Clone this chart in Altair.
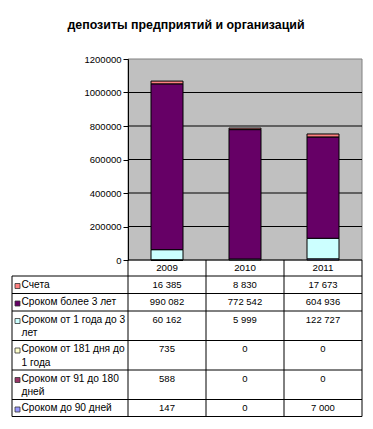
import altair as alt
import pandas as pd

# ---------------- data ----------------
title_text = "депозиты предприятий и организаций"
years = ["2009", "2010", "2011"]

series_names = [
    "Счета",
    "Сроком более 3 лет",
    "Сроком от 1 года до 3 лет",
    "Сроком от 181 дня до 1 года",
    "Сроком от 91 до 180 дней",
    "Сроком до 90 дней",
]
series_labels = [
    "Счета",
    "Сроком более 3 лет",
    "Сроком от 1 года до 3\nлет",
    "Сроком от 181 дня до\n1 года",
    "Сроком от 91 до 180\nдней",
    "Сроком до 90 дней",
]
series_colors = ["#FF8080", "#660066", "#CCFFFF", "#FFFFCC", "#993366", "#9999FF"]

scheta = [16385, 8830, 17673]
bolee_3_let = [990082, 772542, 604936]
ot_1_do_3_let = [60162, 5999, 122727]
ot_181_dnya_do_1_goda = [735, 0, 0]
ot_91_do_180_dney = [588, 0, 0]
do_90_dney = [147, 0, 7000]
series_values = [scheta, bolee_3_let, ot_1_do_3_let,
                 ot_181_dnya_do_1_goda, ot_91_do_180_dney, do_90_dney]

y_ticks = [0, 200000, 400000, 600000, 800000, 1000000, 1200000]

# ---------------- layout ----------------
FONT = "Liberation Sans"
PLOT_W, PLOT_H = 234, 201
N_COLS = len(years)
LABEL_W = 116 / 78          # label column width, in column units
HEADER_H = 16
ROW_H1, EXTRA_LINE = 17.5, 12

XS = alt.Scale(domain=[0, N_COLS], nice=False, zero=False, padding=0)
YS = alt.Scale(domain=[y_ticks[0], y_ticks[-1]], nice=False, zero=False, padding=0)
CS = alt.Scale(domain=series_names, range=series_colors)

# stacked bars (bottom series = last row of the table)
bar_rows = []
for i, yr in enumerate(years):
    base = 0
    for k in reversed(range(len(series_names))):
        v = series_values[k][i]
        if v > 0:
            bar_rows.append(dict(year=yr, xc=i + 0.5, series=series_names[k],
                                 y0=base, y1=base + v))
        base += v
bars_df = pd.DataFrame(bar_rows)

# table geometry
tops, heights = [], []
t = HEADER_H
for lbl in series_labels:
    h = ROW_H1 + EXTRA_LINE * lbl.count("\n")
    tops.append(t)
    heights.append(h)
    t += h
TABLE_H = t
TS = alt.Scale(domain=[0, TABLE_H], range=[PLOT_H, PLOT_H + TABLE_H],
               nice=False, zero=False, padding=0)

cells = []
for k, s in enumerate(series_names):
    for i, yr in enumerate(years):
        cells.append(dict(xc=i + 0.5, ty=tops[k] + 8.5,
                          txt=f"{series_values[k][i]:,}".replace(",", " ")))
cells_df = pd.DataFrame(cells)

labels_df = pd.DataFrame(dict(
    lx=[-LABEL_W] * len(series_names),
    ty=[tops[k] + 8.5 for k in range(len(series_names))],
    ky=[tops[k] + 9.5 for k in range(len(series_names))],
    lbl=series_labels,
    series=series_names,
))
header_df = pd.DataFrame(dict(xc=[i + 0.5 for i in range(N_COLS)],
                              ty=[HEADER_H / 2] * N_COLS, year=years))
hlines_df = pd.DataFrame(dict(y=tops + [TABLE_H - 0.5],
                              x0=[-LABEL_W] * (len(tops) + 1),
                              x1=[N_COLS] * (len(tops) + 1)))
vlines_df = pd.DataFrame(dict(x=[0, 1, 2, 3, -LABEL_W],
                              y0=[0, 0, 0, 0, HEADER_H],
                              y1=[TABLE_H - 0.5] * 5))

# ---------------- chart ----------------
title = alt.Chart(pd.DataFrame({"t": [title_text]})).mark_text(
    font=FONT, fontSize=12.4, fontWeight="bold", align="center",
    baseline="alphabetic", color="black").encode(
    x=alt.value(58), y=alt.value(-30), text="t:N")

yaxis = alt.Axis(values=y_ticks, format="d", grid=False, title=None,
                 tickSize=5, tickColor="black", domainColor="black",
                 labelFont=FONT, labelFontSize=9.5, labelColor="black",
                 labelPadding=2, zindex=1)

bg = alt.Chart(pd.DataFrame({"x0": [0], "x1": [N_COLS], "y0": [y_ticks[0]],
                             "y1": [y_ticks[-1]]})).mark_rect(
    fill="#C0C0C0", stroke="#808080", strokeWidth=1).encode(
    x=alt.X("x0:Q", scale=XS, axis=None), x2="x1:Q",
    y=alt.Y("y0:Q", scale=YS, axis=yaxis), y2="y1:Q")

grid = alt.Chart(pd.DataFrame({"gy": y_ticks[:-1], "gx0": 0, "gx1": N_COLS})).mark_rule(
    color="black", strokeWidth=1).encode(
    x=alt.X("gx0:Q", scale=XS, axis=None), x2="gx1:Q",
    y=alt.Y("gy:Q", scale=YS, axis=yaxis))

bars = alt.Chart(bars_df).mark_bar(size=32, orient="vertical", stroke="black",
                                   strokeWidth=1).encode(
    x=alt.X("xc:Q", scale=XS, axis=None),
    y=alt.Y("y0:Q", scale=YS, axis=yaxis), y2="y1:Q",
    color=alt.Color("series:N", scale=CS, legend=None))

plot = alt.layer(bg, grid, bars)

hl = alt.Chart(hlines_df).mark_rule(color="black", strokeWidth=1).encode(
    x=alt.X("x0:Q", scale=XS, axis=None), x2="x1:Q",
    y=alt.Y("y:Q", scale=TS, axis=None))
vl = alt.Chart(vlines_df).mark_rule(color="black", strokeWidth=1).encode(
    x=alt.X("x:Q", scale=XS, axis=None),
    y=alt.Y("y0:Q", scale=TS, axis=None), y2="y1:Q")
head = alt.Chart(header_df).mark_text(font=FONT, fontSize=9.75, color="black",
                                      align="center", baseline="middle").encode(
    x=alt.X("xc:Q", scale=XS, axis=None),
    y=alt.Y("ty:Q", scale=TS, axis=None), text="year:N")
vals = alt.Chart(cells_df).mark_text(font=FONT, fontSize=9.5, color="black",
                                     align="center", baseline="middle").encode(
    x=alt.X("xc:Q", scale=XS, axis=None),
    y=alt.Y("ty:Q", scale=TS, axis=None), text="txt:N")
labs = alt.Chart(labels_df).mark_text(font=FONT, fontSize=10.2, color="black",
                                      align="left", baseline="middle", dx=9.5,
                                      lineBreak="\n", lineHeight=13.5).encode(
    x=alt.X("lx:Q", scale=XS, axis=None),
    y=alt.Y("ty:Q", scale=TS, axis=None), text="lbl:N")
keys = alt.Chart(labels_df).mark_rect(stroke="#333333", strokeWidth=0.8,
                                      xOffset=3.0, x2Offset=8.0,
                                      yOffset=-2.0, y2Offset=3.0).encode(
    x=alt.X("lx:Q", scale=XS, axis=None), x2="lx:Q",
    y=alt.Y("ky:Q", scale=TS, axis=None), y2="ky:Q",
    color=alt.Color("series:N", scale=CS, legend=None))

table = alt.layer(hl, vl, head, vals, labs, keys)

chart = alt.layer(title, plot, table).resolve_scale(
    y="independent").properties(
    width=PLOT_W, height=PLOT_H, background="white",
    padding={"left": 120, "top": 51, "right": 3, "bottom": 158},
    autosize=alt.AutoSizeParams(type="none"),
).configure_view(stroke=None)

chart.save("out.html", embed_options={"renderer": "svg", "actions": False})
